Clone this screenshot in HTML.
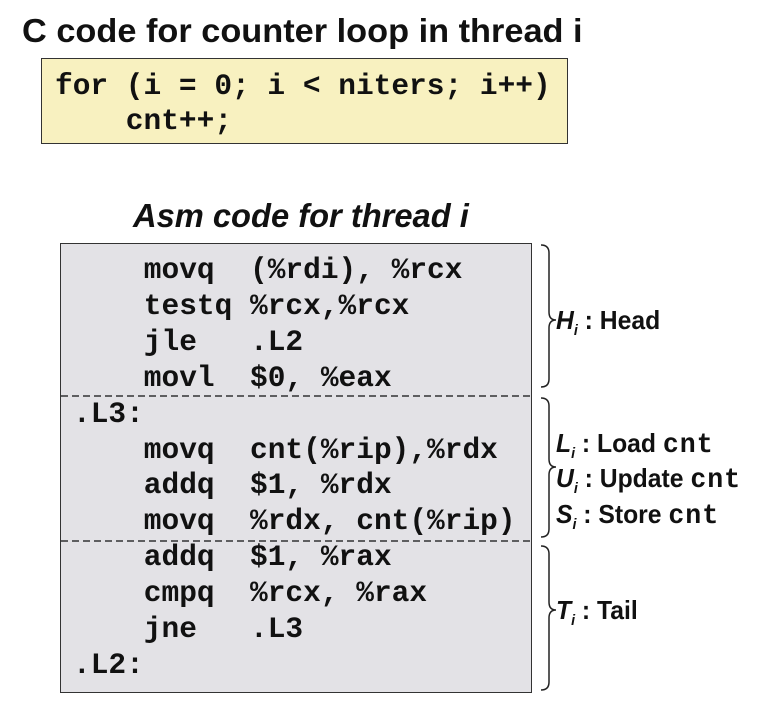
<!DOCTYPE html>
<html><head><meta charset="utf-8"><style>
body{margin:0;width:784px;height:708px;background:#fff;position:relative;overflow:hidden;font-family:"Liberation Sans",sans-serif}
.t{position:absolute;white-space:pre;line-height:1}
.m{font-family:"Liberation Mono",monospace;font-weight:bold;color:#111}
.lab{position:absolute;font-weight:bold;font-size:26px;white-space:pre;transform:scaleX(0.95);transform-origin:left center;line-height:1;color:#111}
.lab i sub{font-size:15px}
.c{font-family:"Liberation Mono",monospace;font-size:28px;font-weight:bold;letter-spacing:1px}
</style></head><body>
<div class="t" style="left:22px;top:14px;font-size:33px;font-weight:bold;color:#111;transform:scaleX(1.04);transform-origin:left">C code for counter loop in thread i</div>
<div style="position:absolute;left:41px;top:58px;width:525px;height:84px;background:#f8f1c0;border:1.5px solid #333"></div>
<div class="t m" style="left:55px;top:72px;font-size:29.5px">for (i = 0; i &lt; niters; i++)</div>
<div class="t m" style="left:55px;top:107px;font-size:29.5px">    cnt++;</div>
<div class="t" style="left:133px;top:199px;font-size:33px;font-weight:bold;font-style:italic;color:#111;transform:scaleX(0.99);transform-origin:left">Asm code for thread i</div>
<div style="position:absolute;left:60px;top:243px;width:470px;height:448px;background:#e3e2e6;border:1.5px solid #333"></div>
<svg style="position:absolute;left:0;top:0" width="784" height="708">
<g stroke="#333" stroke-width="1.5" stroke-dasharray="7,4">
<line x1="61" y1="396" x2="531" y2="396"/>
<line x1="61" y1="541" x2="531" y2="541"/>
</g>
<g fill="none" stroke="#222" stroke-width="1.5">
<path d="M541 245 Q549 245 549 253 L549 312 Q549 320 556 320 Q549 320 549 328 L549 379 Q549 387 541 387"/>
<path d="M541 398 Q549 398 549 406 L549 459 Q549 467 556 467 Q549 467 549 475 L549 529 Q549 537 541 537"/>
<path d="M541 546 Q549 546 549 554 L549 602 Q549 610 556 610 Q549 610 549 618 L549 682 Q549 690 541 690"/>
</g></svg>
<div class="m" style="position:absolute;left:73px;top:253px;font-size:29.5px;line-height:35.9px;white-space:pre">    movq  (%rdi), %rcx
    testq %rcx,%rcx
    jle   .L2
    movl  $0, %eax
.L3:
    movq  cnt(%rip),%rdx
    addq  $1, %rdx
    movq  %rdx, cnt(%rip)
    addq  $1, %rax
    cmpq  %rcx, %rax
    jne   .L3
.L2:</div>
<div class="lab" style="left:556px;top:307px"><i>H<sub>i</sub></i> : Head</div>
<div class="lab" style="left:556px;top:430px"><i>L<sub>i</sub></i> : Load <span class="c">cnt</span></div>
<div class="lab" style="left:556px;top:465px"><i>U<sub>i</sub></i> : Update <span class="c">cnt</span></div>
<div class="lab" style="left:556px;top:501px"><i>S<sub>i</sub></i> : Store <span class="c">cnt</span></div>
<div class="lab" style="left:556px;top:597px"><i>T<sub>i</sub></i> : Tail</div>
</body></html>
